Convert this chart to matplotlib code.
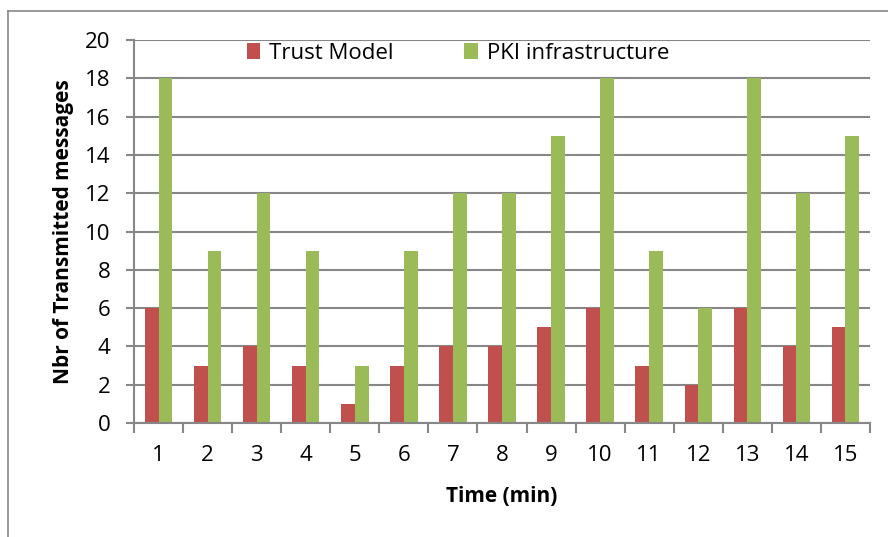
import matplotlib
matplotlib.use("Agg")
import matplotlib.pyplot as plt
import numpy as np
from matplotlib.lines import Line2D

categories = [str(i) for i in range(1, 16)]
trust = [6, 3, 4, 3, 1, 3, 4, 4, 5, 6, 3, 2, 6, 4, 5]
pki = [18, 9, 12, 9, 3, 9, 12, 12, 15, 18, 9, 6, 18, 12, 15]
yticks = list(range(0, 21, 2))

plt.rcParams['font.family'] = ['Open Sans', 'DejaVu Sans']
gray = '#878787'

fig = plt.figure(figsize=(8.88, 5.37), dpi=100)
ax = fig.add_axes([0.1509, 0.2123, 0.8288, 0.7132])

x = np.arange(1, len(categories) + 1)
w = 0.28
ax.bar(x - w / 2, trust, width=w, color='#C0504D', label='Trust Model', zorder=3)
ax.bar(x + w / 2, pki, width=w, color='#9BBB59', label='PKI infrastructure', zorder=3)

ax.set_xlim(0.5, len(categories) + 0.5)
ax.set_ylim(0, 20)
ax.set_yticks(yticks)
ax.set_xticks(x)
ax.set_xticklabels(categories)
ax.set_xticks(np.arange(0.5, len(categories) + 1, 1), minor=True)
ax.tick_params(axis='x', which='major', length=0, pad=16, labelsize=16)
ax.tick_params(axis='x', which='minor', length=7, width=1.5, color=gray, direction='out')
ax.tick_params(axis='y', length=6, width=1.5, color=gray, direction='out', labelsize=16, pad=11)

ax.yaxis.grid(True, color=gray, linewidth=1.5, zorder=0)
ax.set_axisbelow(True)
for s in ['top', 'right']:
    ax.spines[s].set_visible(False)
for s in ['left', 'bottom']:
    ax.spines[s].set_color(gray)
    ax.spines[s].set_linewidth(1.5)
    ax.spines[s].set_zorder(4)

ax.set_ylabel('Nbr of Transmitted messages', fontsize=15, fontweight='bold', labelpad=8)
ax.set_xlabel('Time (min)', fontsize=15, fontweight='bold', labelpad=14)

leg = ax.legend(loc='upper center', bbox_to_anchor=(0.44, 1.045), ncol=2, frameon=False,
                fontsize=16, handlelength=0.6, handleheight=0.7, columnspacing=3.2,
                handletextpad=0.4)

fig.add_artist(Line2D([8 / 888, 1], [1 - 11 / 537, 1 - 11 / 537], transform=fig.transFigure,
                      color=gray, linewidth=1.2))
fig.add_artist(Line2D([8 / 888, 8 / 888], [0, 1 - 11 / 537], transform=fig.transFigure,
                      color=gray, linewidth=1.2))

fig.savefig('out.png', dpi=100)
